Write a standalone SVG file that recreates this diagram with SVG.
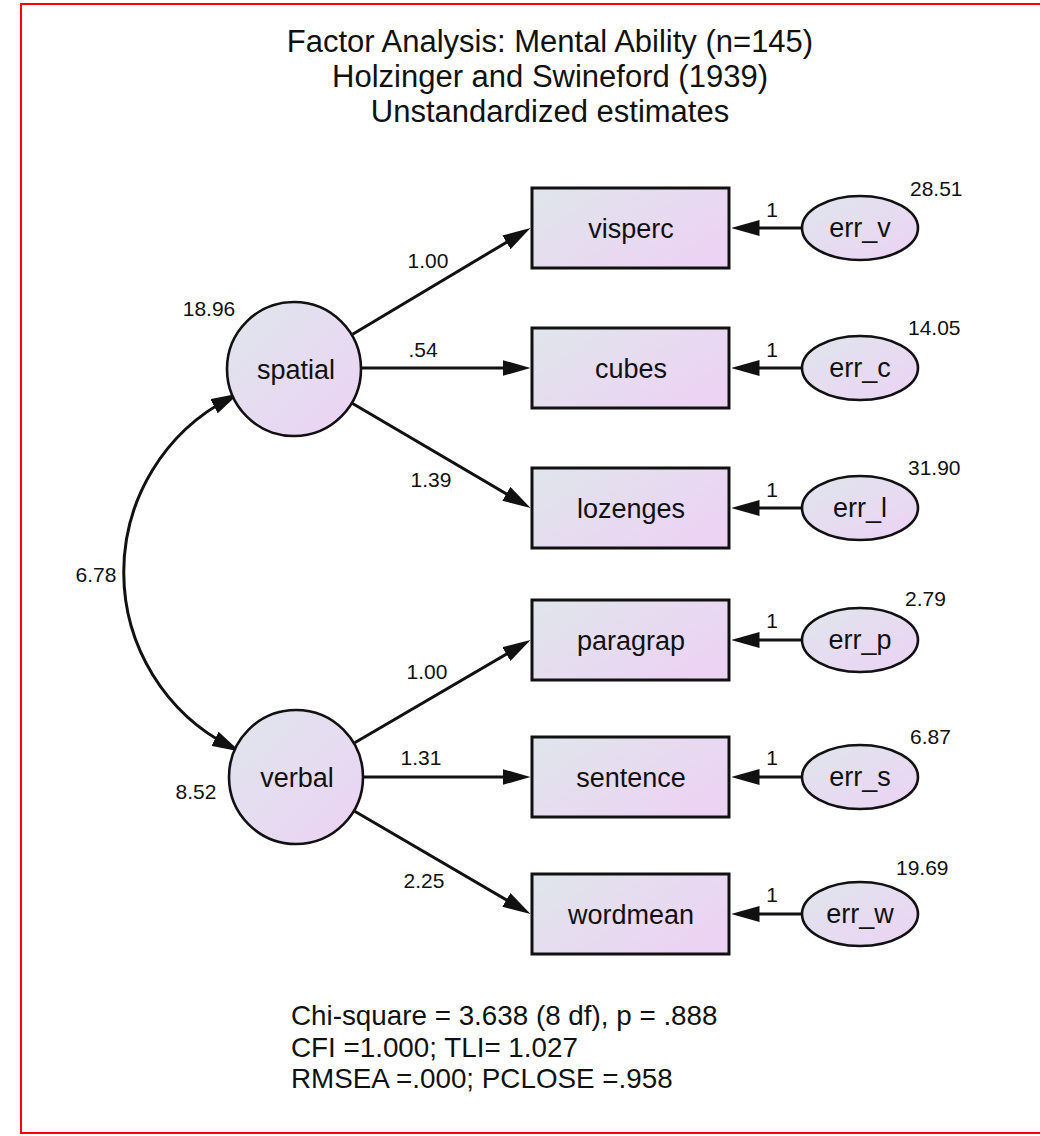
<svg xmlns="http://www.w3.org/2000/svg" width="1040" height="1136" viewBox="0 0 1040 1136">
  <style>
    text { font-family: "Liberation Sans", Arial, sans-serif; fill: #111; }
    .title { font-size: 31px; text-anchor: middle; }
    .label { font-size: 27px; text-anchor: middle; }
    .num { font-size: 21px; }
    .fit { font-size: 27.8px; }
    .obs { fill: url(#gObs); stroke: #111; stroke-width: 3; }
    .lat { fill: url(#gLat); stroke: #111; stroke-width: 2.6; }
    .err { fill: url(#gLat); stroke: #111; stroke-width: 2.6; }
    .path { fill: none; stroke: #111; stroke-width: 3; marker-end: url(#head); }
    .cov { fill: none; stroke: #111; stroke-width: 3; marker-start: url(#head); marker-end: url(#head); }
  </style>
  <defs>
    <linearGradient id="gObs" x1="0" y1="0" x2="1" y2="0.6">
      <stop offset="0" stop-color="#dfe6ea"/>
      <stop offset="1" stop-color="#ecd3f4"/>
    </linearGradient>
    <linearGradient id="gLat" x1="0" y1="0" x2="1" y2="1">
      <stop offset="0" stop-color="#dfe6ec"/>
      <stop offset="1" stop-color="#ecd2f4"/>
    </linearGradient>
    <marker id="head" markerUnits="userSpaceOnUse" viewBox="0 0 28 16" refX="18" refY="8" markerWidth="28" markerHeight="16" orient="auto-start-reverse">
      <path d="M0,0 L28,8 L0,16 z" fill="#111"/>
    </marker>
  </defs>

  <!-- frame -->
  <rect x="21" y="4" width="1040" height="1129" fill="none" stroke="#f00" stroke-width="2"/>

  <!-- heading -->
  <g id="heading">
    <text class="title" x="550" y="52">Factor Analysis: Mental Ability (n=145)</text>
    <text class="title" x="550" y="87">Holzinger and Swineford (1939)</text>
    <text class="title" x="550" y="122">Unstandardized estimates</text>
  </g>

  <!-- connectors -->
  <g id="connectors">
    <path class="cov" d="M230,398 A196,196 0 0 0 231,747"/>
    <line class="path" x1="352.6" y1="334.2" x2="521.9" y2="233.1"/>
    <line class="path" x1="362" y1="368" x2="520.5" y2="368"/>
    <line class="path" x1="352.6" y1="403.5" x2="521.9" y2="502.9"/>
    <line class="path" x1="354.7" y1="742.7" x2="521.9" y2="645"/>
    <line class="path" x1="364" y1="777" x2="520.5" y2="777"/>
    <line class="path" x1="354.7" y1="811.3" x2="521.9" y2="909"/>
    <line class="path" x1="802" y1="228" x2="741.5" y2="228"/>
    <line class="path" x1="802" y1="368" x2="741.5" y2="368"/>
    <line class="path" x1="802" y1="508" x2="741.5" y2="508"/>
    <line class="path" x1="802" y1="640" x2="741.5" y2="640"/>
    <line class="path" x1="802" y1="777" x2="741.5" y2="777"/>
    <line class="path" x1="802" y1="914" x2="741.5" y2="914"/>
  </g>

  <!-- connector labels -->
  <g id="estimates">
    <text class="num" x="96" y="582" text-anchor="middle">6.78</text>
    <text class="num" x="428" y="268" text-anchor="middle">1.00</text>
    <text class="num" x="423" y="357" text-anchor="middle">.54</text>
    <text class="num" x="431" y="487" text-anchor="middle">1.39</text>
    <text class="num" x="427" y="679" text-anchor="middle">1.00</text>
    <text class="num" x="421" y="765" text-anchor="middle">1.31</text>
    <text class="num" x="424" y="888" text-anchor="middle">2.25</text>
    <text class="num" x="772" y="217" text-anchor="middle">1</text>
    <text class="num" x="772" y="357" text-anchor="middle">1</text>
    <text class="num" x="772" y="497" text-anchor="middle">1</text>
    <text class="num" x="772" y="628" text-anchor="middle">1</text>
    <text class="num" x="772" y="765" text-anchor="middle">1</text>
    <text class="num" x="772" y="902" text-anchor="middle">1</text>
  </g>

  <!-- latent factors -->
  <g id="spatial">
    <circle class="lat" cx="294" cy="369" r="67"/>
    <text class="label" x="296" y="379">spatial</text>
    <text class="num" x="209" y="316" text-anchor="middle">18.96</text>
  </g>
  <g id="verbal">
    <circle class="lat" cx="296" cy="777" r="67"/>
    <text class="label" x="297" y="787">verbal</text>
    <text class="num" x="196" y="799" text-anchor="middle">8.52</text>
  </g>

  <!-- observed measures -->
  <g id="visperc">
    <rect class="obs" x="532" y="188" width="197" height="80"/>
    <text class="label" x="631" y="238">visperc</text>
  </g>
  <g id="cubes">
    <rect class="obs" x="532" y="328" width="197" height="80"/>
    <text class="label" x="631" y="378">cubes</text>
  </g>
  <g id="lozenges">
    <rect class="obs" x="532" y="468" width="197" height="80"/>
    <text class="label" x="631" y="518">lozenges</text>
  </g>
  <g id="paragrap">
    <rect class="obs" x="532" y="600" width="197" height="80"/>
    <text class="label" x="631" y="650">paragrap</text>
  </g>
  <g id="sentence">
    <rect class="obs" x="532" y="737" width="197" height="80"/>
    <text class="label" x="631" y="787">sentence</text>
  </g>
  <g id="wordmean">
    <rect class="obs" x="532" y="874" width="197" height="80"/>
    <text class="label" x="631" y="924">wordmean</text>
  </g>

  <!-- residual terms -->
  <g id="err_v">
    <ellipse class="err" cx="860" cy="228" rx="58" ry="32"/>
    <text class="label" x="860" y="237">err_v</text>
    <text class="num" x="910" y="196">28.51</text>
  </g>
  <g id="err_c">
    <ellipse class="err" cx="860" cy="368" rx="58" ry="32"/>
    <text class="label" x="860" y="377">err_c</text>
    <text class="num" x="908" y="335">14.05</text>
  </g>
  <g id="err_l">
    <ellipse class="err" cx="860" cy="508" rx="58" ry="32"/>
    <text class="label" x="860" y="517">err_l</text>
    <text class="num" x="908" y="475">31.90</text>
  </g>
  <g id="err_p">
    <ellipse class="err" cx="860" cy="640" rx="58" ry="32"/>
    <text class="label" x="860" y="649">err_p</text>
    <text class="num" x="905" y="606">2.79</text>
  </g>
  <g id="err_s">
    <ellipse class="err" cx="860" cy="777" rx="58" ry="32"/>
    <text class="label" x="860" y="786">err_s</text>
    <text class="num" x="910" y="744">6.87</text>
  </g>
  <g id="err_w">
    <ellipse class="err" cx="860" cy="914" rx="58" ry="32"/>
    <text class="label" x="860" y="923">err_w</text>
    <text class="num" x="896" y="875">19.69</text>
  </g>

  <!-- fit summary -->
  <g id="fit">
    <text class="fit" x="291" y="1025">Chi-square = 3.638 (8 df), p = .888</text>
    <text class="fit" x="291" y="1057">CFI =1.000; TLI= 1.027</text>
    <text class="fit" x="291" y="1088">RMSEA =.000; PCLOSE =.958</text>
  </g>
</svg>
